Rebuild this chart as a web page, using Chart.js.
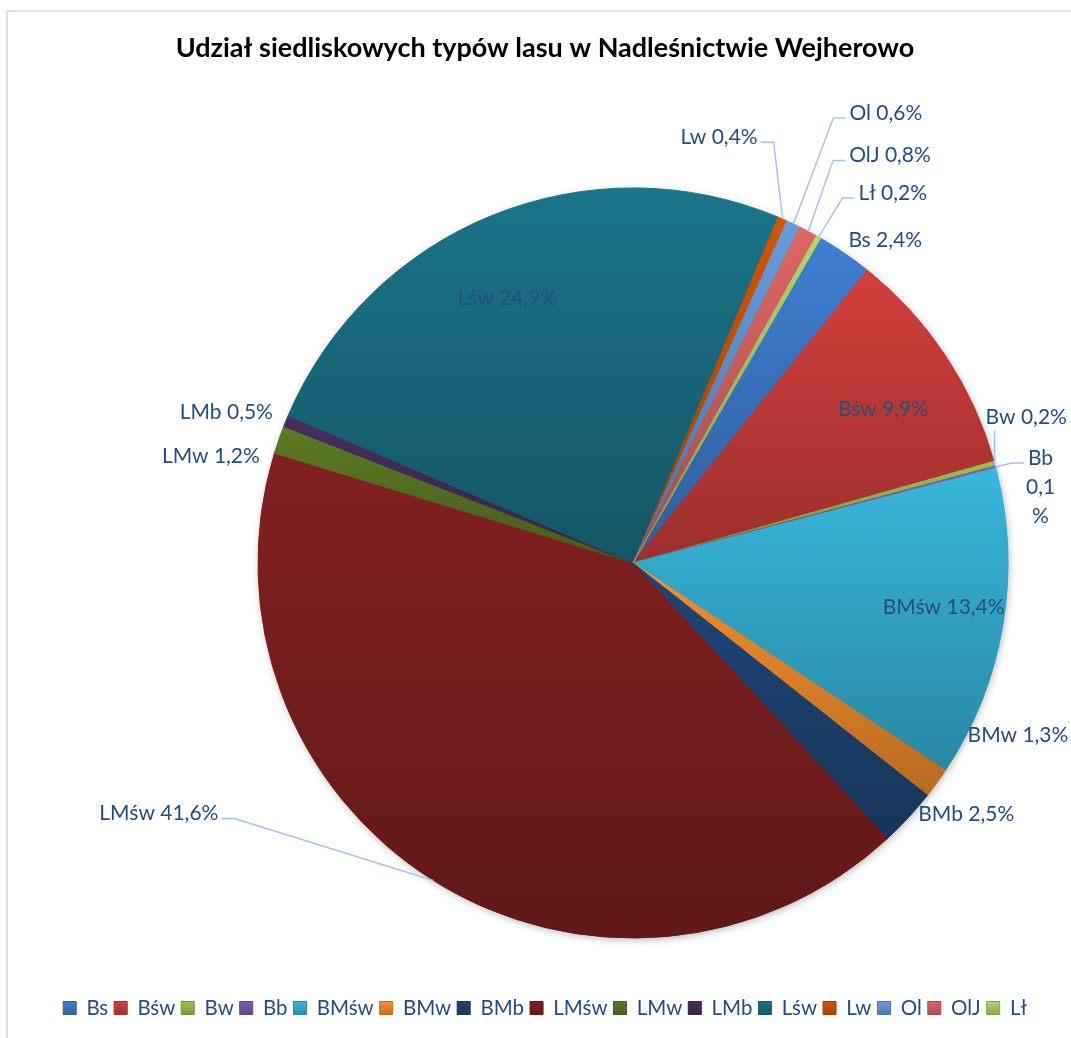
<!DOCTYPE html>
<html lang="pl">
<head>
<meta charset="utf-8">
<title>Udział siedliskowych typów lasu w Nadleśnictwie Wejherowo</title>
<script src="https://cdn.jsdelivr.net/npm/chart.js@4.4.1/dist/chart.umd.min.js"></script>
<style>
  html, body { margin: 0; padding: 0; background: #fff; overflow: hidden; }
  #wrap { position: relative; width: 1071px; height: 1038px; overflow: hidden; }
  #frame { position: absolute; left: 6px; top: 10px; width: 1100px; height: 1100px; border: 2px solid #dae3f3; }
  #chart { position: absolute; left: 0; top: 0; }
</style>
</head>
<body>
<div id="wrap">
  <div id="frame"></div>
  <canvas id="chart" width="1071" height="1038"></canvas>
</div>
<script>
// udział siedliskowych typów lasu, %
const categories = ['Bs', 'Bśw', 'Bw', 'Bb', 'BMśw', 'BMw', 'BMb', 'LMśw', 'LMw', 'LMb', 'Lśw', 'Lw', 'Ol', 'OlJ', 'Lł'];
const shares = [2.4, 9.9, 0.2, 0.1, 13.4, 1.3, 2.5, 41.6, 1.2, 0.5, 24.9, 0.4, 0.6, 0.8, 0.2];
const sliceColors = ['#3f7fd1', '#d13f3c', '#9cc24a', '#7f5fab', '#38b7dc', '#f7902d', '#1e4778', '#822020',
                     '#5c7b24', '#452f5e', '#1b7489', '#d45500', '#689cdc', '#dc6764', '#b0d66d'];

const firstSliceAngle = 30;
const pieCenterX = 633;
const fontFamily = 'Lato, "Open Sans", sans-serif';
const labelSize = 21;
const legendSize = 20.5;
const textColor = '#264d80';
const leaderColor = '#a5c3e9';

// where each value label goes: inside = fraction of radius, otherwise next to the rim
const labelPlacement = {
  'Bs':   { dx: 4, dy: -13 },
  'Bśw':  { inside: 0.8, dy: 12 },
  'Bw':   { dx: -9, dy: -46, leader: 'below' },
  'Bb':   { dx: 45, dy: -9, align: 'center', wrap: 30, leader: true },
  'BMśw': { inside: 0.84, dy: -8 },
  'BMw':  { dx: 31, dy: -48 },
  'BMb':  { dx: 10, dy: -3 },
  'LMśw': { dx: -215, dy: -67, leader: true },
  'LMw':  { dx: -19, dy: 17 },
  'LMb':  { dx: -13, dy: -9 },
  'Lśw':  { inside: 0.78, dx: -16, dy: 6 },
  'Lw':   { dx: -25, dy: -82, align: 'right', leader: true },
  'Ol':   { dx: 56, dy: -111, leader: true },
  'OlJ':  { dx: 41, dy: -76, leader: true },
  'Lł':   { dx: 40, dy: -44, leader: true }
};

function shade(hex, f) {
  const n = parseInt(hex.slice(1), 16);
  const r = Math.round(((n >> 16) & 255) * f);
  const g = Math.round(((n >> 8) & 255) * f);
  const b = Math.round((n & 255) * f);
  return `rgb(${r},${g},${b})`;
}

// vertical gradient over the slice's own height, lighter on top
function sliceFill(c) {
  const i = c.dataIndex;
  if (i === undefined) return sliceColors[0];
  const base = sliceColors[i];
  const chart = c.chart;
  const area = chart.chartArea;
  const ctrl = chart.getDatasetMeta(0).controller;
  if (!area || !ctrl || !ctrl.outerRadius) return base;
  const cy = (area.top + area.bottom) / 2;
  const R = ctrl.outerRadius;
  const total = shares.reduce((s, v) => s + v, 0);
  let cum = 0;
  for (let k = 0; k < i; k++) cum += shares[k];
  const a0 = firstSliceAngle + 360 * cum / total;
  const a1 = a0 + 360 * shares[i] / total;
  const rad = Math.PI / 180;
  const ys = [cy, cy - R * Math.cos(a0 * rad), cy - R * Math.cos(a1 * rad)];
  for (let k = -1; k <= 2; k++) {
    if (360 * k >= a0 && 360 * k <= a1) ys.push(cy - R);
    if (180 + 360 * k >= a0 && 180 + 360 * k <= a1) ys.push(cy + R);
  }
  const top = Math.min(...ys), bottom = Math.max(...ys);
  const g = chart.ctx.createLinearGradient(0, top, 0, Math.max(bottom, top + 1));
  g.addColorStop(0, base);
  g.addColorStop(1, shade(base, 0.74));
  return g;
}

function wrapText(ctx, text, maxWidth) {
  const pieces = [];
  text.split(' ').forEach(word => {
    if (ctx.measureText(word).width <= maxWidth) { pieces.push(word); return; }
    let chunk = '';
    for (const ch of word) {
      if (chunk && ctx.measureText(chunk + ch).width > maxWidth) { pieces.push(chunk); chunk = ''; }
      chunk += ch;
    }
    if (chunk) pieces.push(chunk);
  });
  const lines = [];
  pieces.forEach(p => {
    const last = lines[lines.length - 1];
    if (last !== undefined && ctx.measureText(last + ' ' + p).width <= maxWidth) lines[lines.length - 1] = last + ' ' + p;
    else lines.push(p);
  });
  return lines;
}

// move the pie right of the title/legend centre line
const shiftPie = {
  id: 'shiftPie',
  afterLayout(chart) {
    const a = chart.chartArea;
    const dx = pieCenterX - (a.left + a.right) / 2;
    a.left += dx;
    a.right += dx;
  }
};

const pieShadow = {
  id: 'pieShadow',
  beforeDatasetsDraw(chart) {
    const arc = chart.getDatasetMeta(0).data[0];
    if (!arc) return;
    const ctx = chart.ctx;
    ctx.save();
    ctx.shadowColor = 'rgba(0,0,0,0.35)';
    ctx.shadowBlur = 8;
    ctx.shadowOffsetX = 1;
    ctx.shadowOffsetY = 2;
    ctx.beginPath();
    ctx.arc(arc.x, arc.y, arc.outerRadius - 1, 0, Math.PI * 2);
    ctx.fillStyle = '#6a2020';
    ctx.fill();
    ctx.restore();
  }
};

const sliceLabels = {
  id: 'sliceLabels',
  afterDatasetsDraw(chart) {
    const ctx = chart.ctx;
    const meta = chart.getDatasetMeta(0);
    ctx.save();
    ctx.font = `${labelSize}px ${fontFamily}`;
    ctx.textBaseline = 'middle';
    ctx.fillStyle = textColor;
    ctx.strokeStyle = leaderColor;
    ctx.lineWidth = 1.5;
    meta.data.forEach((arc, i) => {
      const p = labelPlacement[categories[i]] || {};
      const text = categories[i] + ' ' + shares[i].toFixed(1).replace('.', ',') + '%';
      const mid = (arc.startAngle + arc.endAngle) / 2;
      const R = arc.outerRadius;
      const ex = arc.x + Math.cos(mid) * R;
      const ey = arc.y + Math.sin(mid) * R;
      const r = p.inside ? R * p.inside : R;
      const x = arc.x + Math.cos(mid) * r + (p.dx || 0);
      const y = arc.y + Math.sin(mid) * r + (p.dy || 0);
      const align = p.inside ? 'center' : (p.align || (Math.cos(mid) >= 0 ? 'left' : 'right'));
      const lines = p.wrap ? wrapText(ctx, text, p.wrap) : [text];
      const lineH = 29;

      if (p.leader) {
        ctx.beginPath();
        if (p.leader === 'below') {
          ctx.moveTo(ex, ey);
          ctx.lineTo(ex, y + 13);
        } else {
          const w = ctx.measureText(lines[0]).width;
          const left = align === 'left' ? x : align === 'center' ? x - w / 2 : x - w;
          const right = left + w;
          const ly = y + 5;
          ctx.moveTo(ex, ey);
          if (left > ex) {
            ctx.lineTo(left - 16, ly);
            ctx.lineTo(left - 4, ly);
          } else {
            ctx.lineTo(right + 16, ly);
            ctx.lineTo(right + 3, ly);
          }
        }
        ctx.stroke();
      }

      ctx.textAlign = align;
      lines.forEach((line, k) => ctx.fillText(line, x, y + k * lineH));
    });
    ctx.restore();
  }
};

// legend swatches get the same top-to-bottom shading
const legendShading = {
  id: 'legendShading',
  beforeDraw(chart) {
    const lg = chart.legend;
    if (!lg || !lg.legendHitBoxes || !lg.legendItems) return;
    const off = (legendSize - 13) / 2;
    lg.legendItems.forEach((item, i) => {
      const hb = lg.legendHitBoxes[i];
      if (!hb) return;
      const g = chart.ctx.createLinearGradient(0, hb.top + off, 0, hb.top + off + 13);
      g.addColorStop(0, sliceColors[i]);
      g.addColorStop(1, shade(sliceColors[i], 0.78));
      item.fillStyle = g;
    });
  }
};

new Chart(document.getElementById('chart'), {
  type: 'pie',
  data: {
    labels: categories,
    datasets: [{
      data: shares,
      backgroundColor: sliceFill,
      borderColor: sliceFill,
      borderWidth: 1,
      hoverOffset: 0,
      radius: 375,
      clip: false
    }]
  },
  options: {
    responsive: false,
    animation: false,
    rotation: firstSliceAngle,
    layout: { padding: { left: 19, right: 0, top: 0, bottom: 9.75 } },
    plugins: {
      title: {
        display: true,
        text: 'Udział siedliskowych typów lasu w Nadleśnictwie Wejherowo',
        color: '#000',
        font: { family: fontFamily, size: 27, weight: 'bold' },
        padding: { top: 31.8, bottom: 70 }
      },
      legend: {
        position: 'bottom',
        labels: {
          boxWidth: 13,
          boxHeight: 13,
          padding: 6,
          color: textColor,
          font: { family: fontFamily, size: legendSize }
        }
      },
      tooltip: { enabled: false }
    }
  },
  plugins: [shiftPie, pieShadow, sliceLabels, legendShading]
});
</script>
</body>
</html>
